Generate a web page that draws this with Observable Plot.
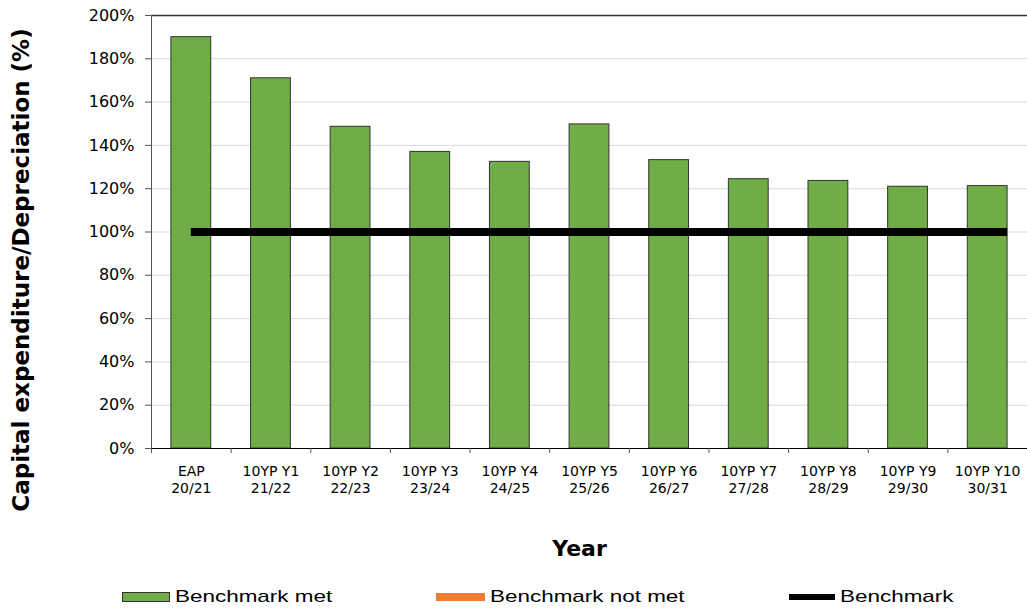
<!DOCTYPE html>
<html>
<head>
<meta charset="utf-8">
<script src="https://cdn.jsdelivr.net/npm/d3@7"></script>
<script src="https://cdn.jsdelivr.net/npm/@observablehq/plot@0.6"></script>
<style>
  body { margin: 0; background: #fff; width: 1027px; overflow: hidden; }
  #chart svg { display: block; }
  #legend { height: 34px; display: flex; align-items: center; padding-left: 122px;
            font-family: "Liberation Sans", Arial, sans-serif; font-size: 17px; color: #000; }
  .item { display: flex; align-items: center; margin-right: 104px; }
  .sw { margin-right: 5px; box-sizing: border-box; }
  .lt { display: inline-block; transform-origin: left center; white-space: nowrap; }
</style>
</head>
<body>
<div id="chart"></div>
<div id="legend"></div>
<script>
// ---- data ----
const categories = ["EAP\n20/21", "10YP Y1\n21/22", "10YP Y2\n22/23", "10YP Y3\n23/24", "10YP Y4\n24/25",
  "10YP Y5\n25/26", "10YP Y6\n26/27", "10YP Y7\n27/28", "10YP Y8\n28/29", "10YP Y9\n29/30", "10YP Y10\n30/31"];
const values = [190, 171, 148.6, 137, 132.4, 149.7, 133.2, 124.4, 123.6, 120.9, 121.2];
const benchmarkValue = 100;
const yTicks = [0, 20, 40, 60, 80, 100, 120, 140, 160, 180, 200];
const legendLabels = ["Benchmark met", "Benchmark not met", "Benchmark"];
const legendColors = ["#70AD47", "#ED7D31", "#000000"];
const yTitle = "Capital expenditure/Depreciation (%)";
const xTitle = "Year";

// ---- chart ----
const W = 1027, H = 580;
const ML = 151, MR = 0, MT = 15, MB = H - 448;
const step = (W - ML - MR) / categories.length;
const data = categories.map((c, i) => ({
  cat: c, value: values[i],
  status: values[i] >= benchmarkValue ? legendLabels[0] : legendLabels[1]
}));
const font = "'DejaVu Sans', Verdana, sans-serif";

const chart = Plot.plot({
  width: W, height: H,
  marginLeft: ML, marginRight: MR, marginTop: MT, marginBottom: MB,
  style: { fontFamily: font, background: "#fff", color: "#000", overflow: "visible" },
  x: { domain: categories, paddingInner: 0.5, paddingOuter: 0.25, round: false, label: null },
  y: { domain: [0, 200], label: null },
  color: { domain: legendLabels.slice(0, 2), range: legendColors.slice(0, 2) },
  marks: [
    Plot.ruleY(yTicks.filter(t => t > 0 && t < 200), { stroke: "#d9d9d9", strokeWidth: 1 }),
    Plot.ruleY([200], { stroke: "#333", strokeWidth: 1.3 }),
    Plot.barY(data, { x: "cat", y: "value", fill: "status", stroke: "#333", strokeWidth: 1 }),
    Plot.ruleY([benchmarkValue], {
      x1: () => categories[0], x2: () => categories[categories.length - 1],
      stroke: legendColors[2], strokeWidth: 8, insetLeft: step / 4
    }),
    Plot.frame({ anchor: "left", stroke: "#555" }),
    Plot.frame({ anchor: "bottom", stroke: "#000" }),
    Plot.axisY({ ticks: yTicks, tickFormat: d => d + "%", tickSize: 6, tickPadding: 11,
      fontSize: 16, label: null, stroke: "#555" }),
    Plot.axisX({ tickSize: 0, tickPadding: 16, fontSize: 14, lineHeight: 1.2, label: null }),
    Plot.ruleX(categories, { x: d => d, y1: 0, y2: 0, insetBottom: -5, dx: -step / 2, stroke: "#555" }),
    Plot.ruleX([categories[categories.length - 1]], { x: d => d, y1: 0, y2: 0, insetBottom: -5, dx: step / 2, stroke: "#555" }),
    Plot.text([yTitle], { frameAnchor: "left", textAnchor: "middle", rotate: -90, dx: -130, dy: 38,
      fontSize: 23, fontWeight: "bold", fontFamily: font }),
    Plot.text([xTitle], { frameAnchor: "bottom", dx: -10, dy: 107,
      fontSize: 22, fontWeight: "bold", fontFamily: font })
  ]
});
document.getElementById("chart").appendChild(chart);

// ---- legend ----
const legend = document.getElementById("legend");
const swatchStyles = [
  "width:48px;height:10px;background:" + legendColors[0] + ";border:1px solid #333;",
  "width:49px;height:8px;background:" + legendColors[1] + ";",
  "width:46px;height:6px;background:" + legendColors[2] + ";"
];
const stretch = 1.32;
legendLabels.forEach((lab, i) => {
  const it = document.createElement("div");
  it.className = "item";
  const sw = document.createElement("div");
  sw.className = "sw";
  sw.style.cssText = swatchStyles[i];
  const t = document.createElement("span");
  t.className = "lt";
  t.textContent = lab;
  it.appendChild(sw); it.appendChild(t);
  legend.appendChild(it);
  const w = t.getBoundingClientRect().width;
  t.style.transform = "scaleX(" + stretch + ")";
  t.style.marginRight = (w * (stretch - 1)) + "px";
});
</script>
</body>
</html>
